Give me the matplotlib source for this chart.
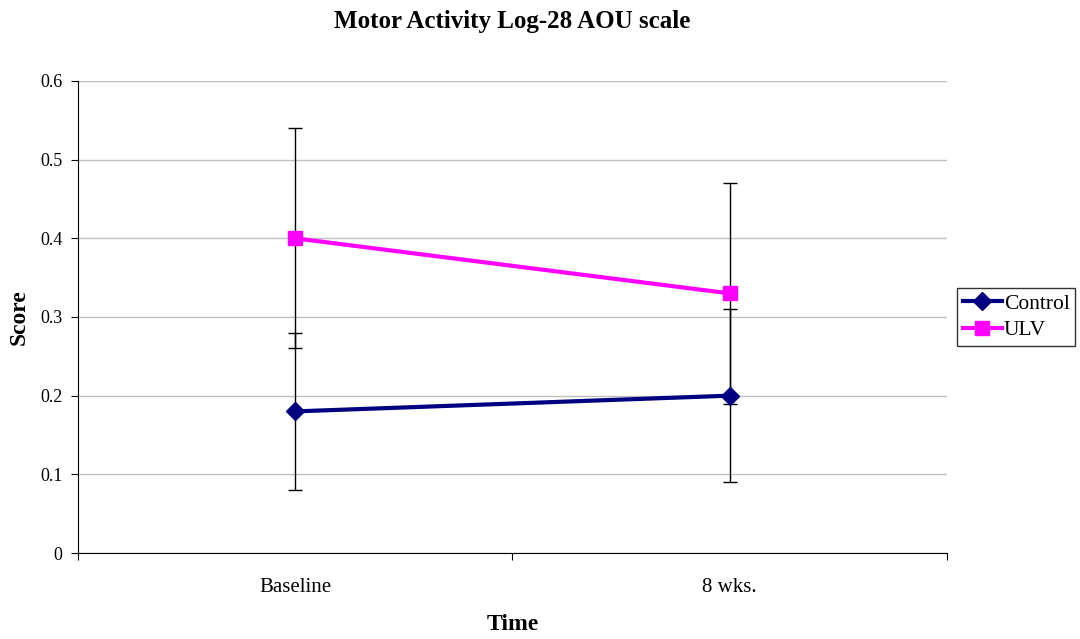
import numpy as np
import matplotlib.pyplot as plt

plt.rcParams['font.family'] = ['Liberation Serif', 'DejaVu Serif']

categories = ['Baseline', '8 wks.']
control = [0.18, 0.20]
control_err = [0.10, 0.11]
ulv = [0.40, 0.33]
ulv_err = [0.14, 0.14]

fig = plt.figure(figsize=(10.8, 6.39), dpi=100)
ax = fig.add_axes([78 / 1080, 1 - 553 / 639, (947 - 78) / 1080, (553 - 81) / 639])

x = np.arange(len(categories))

# error bars first, so the lines sit on top
ax.errorbar(x, control, yerr=control_err, fmt='none', ecolor='black', elinewidth=1, capsize=5, capthick=1, zorder=2)
ax.errorbar(x, ulv, yerr=ulv_err, fmt='none', ecolor='black', elinewidth=1, capsize=5, capthick=1, zorder=2)

ax.plot(x, control, color='#000080', lw=3, marker='D', markersize=9, label='Control', zorder=3)
ax.plot(x, ulv, color='#FF00FF', lw=3, marker='s', markersize=10, label='ULV', zorder=3)

ax.set_xlim(-0.5, 1.5)
ax.set_ylim(0, 0.6)
ax.set_yticks(np.arange(0, 0.61, 0.1))
ax.set_yticklabels(['0', '0.1', '0.2', '0.3', '0.4', '0.5', '0.6'])
ax.set_xticks([-0.5, 0.5, 1.5])
ax.set_xticklabels([])
ax.set_xticks(x, minor=True)
ax.set_xticklabels(categories, minor=True)
ax.tick_params(axis='x', which='minor', length=0, pad=18, labelsize=15)
ax.tick_params(axis='x', which='major', length=5, direction='out')
ax.tick_params(axis='y', length=5, direction='out', labelsize=13, pad=6)

ax.grid(axis='y', color='#c0c0c0', lw=1)
ax.set_axisbelow(True)
for s in ['top', 'right']:
    ax.spines[s].set_visible(False)

ax.set_title('Motor Activity Log-28 AOU scale', fontsize=18, fontweight='bold', pad=38)
ax.set_xlabel('Time', fontsize=17, fontweight='bold', labelpad=12)
ax.set_ylabel('Score', fontsize=17, fontweight='bold', labelpad=8)

leg = ax.legend(loc='center left', bbox_to_anchor=(1.012, 0.5), fontsize=15.5, frameon=True,
                fancybox=False, edgecolor='black', borderpad=0.25, handlelength=1.8,
                handletextpad=0.1, borderaxespad=0, labelspacing=0.3)
leg.get_frame().set_linewidth(1)

fig.savefig('out.png', dpi=100)
